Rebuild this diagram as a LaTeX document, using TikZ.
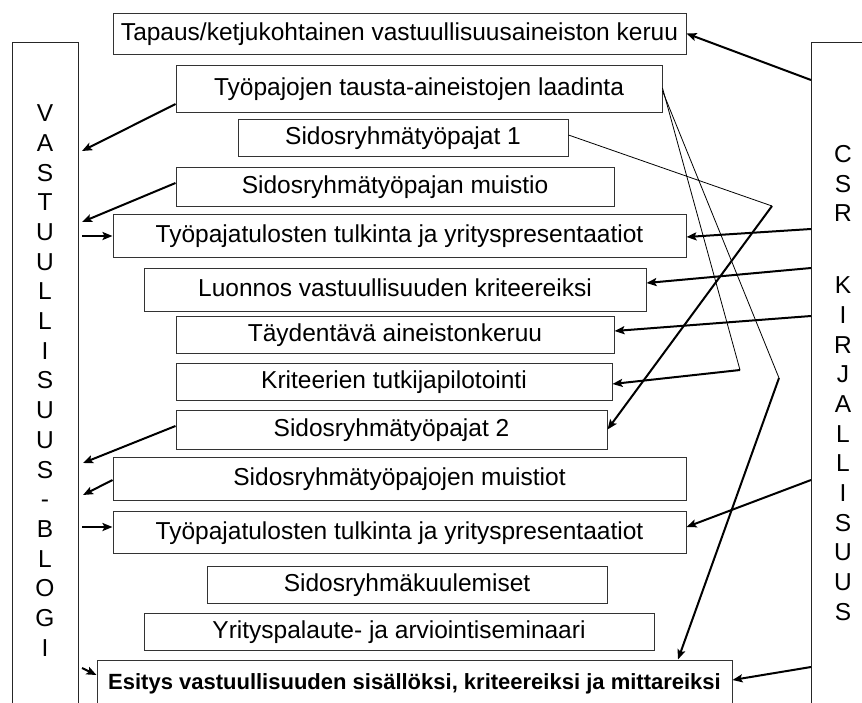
\documentclass[tikz,border=0pt]{standalone}
\usepackage{fontspec}
\setmainfont{Liberation Sans}
\usetikzlibrary{arrows.meta}

\begin{document}
\begin{tikzpicture}[x=1pt,y=-1pt,
  box/.style={draw=black!80, line width=1pt, inner sep=0pt, text height=18pt, text depth=5pt,
    font=\fontsize{24.5}{29.7}\selectfont},
  col/.style={draw=black!85, line width=1pt, inner sep=0pt},
  pino/.style={align=center, inner sep=0pt, font=\fontsize{24.5}{29.7}\selectfont},
  nuoli/.style={-{Stealth[length=10pt,width=8pt,inset=2pt]}, line width=2pt},
  ohut/.style={line width=0.8pt}]
\useasboundingbox (0,0) rectangle (862,702);
% Sivupalkit
\node[col, minimum width=66pt, minimum height=700pt] (blogi) at (45,392) {};
\node[col, minimum width=90pt, minimum height=700pt] (csr) at (856,392) {};
\node[pino] (blogiteksti) at (45,380.5) {V\\A\\S\\T\\U\\U\\L\\L\\I\\S\\U\\U\\S\\-\\B\\L\\O\\G\\I};
\node[pino] (csrteksti) at (843,383) {C\\S\\R\\[42pt]K\\I\\R\\J\\A\\L\\L\\I\\S\\U\\U\\S};
% Vaiheet
\node[box, minimum width=573pt, minimum height=41pt] (b1) at (399.5,33.5) {Tapaus/ketjukohtainen vastuullisuusaineiston keruu};
\node[box, minimum width=486pt, minimum height=47pt] (b2) at (419,88.5) {Työpajojen tausta-aineistojen laadinta};
\node[box, minimum width=330pt, minimum height=37pt] (b3) at (403,137.5) {Sidosryhmätyöpajat 1};
\node[box, minimum width=438pt, minimum height=39pt] (b4) at (395,186.5) {Sidosryhmätyöpajan muistio};
\node[box, minimum width=573pt, minimum height=43pt] (b5) at (399.5,235.5) {Työpajatulosten tulkinta ja yrityspresentaatiot};
\node[box, minimum width=502pt, minimum height=43pt] (b6) at (395,289.5) {Luonnos vastuullisuuden kriteereiksi};
\node[box, minimum width=438pt, minimum height=37pt] (b7) at (395,334.5) {Täydentävä aineistonkeruu};
\node[box, minimum width=436pt, minimum height=37pt] (b8) at (394,381.5) {Kriteerien tutkijapilotointi};
\node[box, minimum width=431pt, minimum height=39pt] (b9) at (391.5,429.5) {Sidosryhmätyöpajat 2};
\node[box, minimum width=573pt, minimum height=43pt] (b10) at (399.5,478.5) {Sidosryhmätyöpajojen muistiot};
\node[box, minimum width=573pt, minimum height=42pt] (b11) at (399.5,532.5) {Työpajatulosten tulkinta ja yrityspresentaatiot};
\node[box, minimum width=400pt, minimum height=37pt] (b12) at (407,585) {Sidosryhmäkuulemiset};
\node[box, minimum width=510pt, minimum height=37pt] (b13) at (399,631.5) {Yrityspalaute- ja arviointiseminaari};
\node[box, minimum width=635pt, minimum height=45pt, font=\fontsize{22}{26}\selectfont\bfseries] (b14) at (414.5,682.5) {Esitys vastuullisuuden sisällöksi, kriteereiksi ja mittareiksi};
% Nuolten päät sivupalkeissa
\coordinate (l1) at (82,151);
\coordinate (l2) at (82,222);
\coordinate (l3) at (82,236);
\coordinate (l4) at (83,463);
\coordinate (l5) at (83,495);
\coordinate (l6) at (82,527);
\coordinate (l7) at (82,668);
\coordinate (r1) at (811,80);
\coordinate (r2) at (811,229);
\coordinate (r3) at (811,268);
\coordinate (r4) at (811,316);
\coordinate (r5) at (811,480);
\coordinate (r6) at (811,667);
\coordinate (k1) at (740,370);
\coordinate (k2) at (779,378);
\coordinate (k3) at (772,206);
% Blogi
\draw[nuoli] ([yshift=-15.5pt]b2.west) -- (l1);
\draw[nuoli] ([yshift=3.5pt]b4.west) -- (l2);
\draw[nuoli] (l3) -- (l3 -| b5.west);
\draw[nuoli] ([yshift=3.5pt]b9.west) -- (l4);
\draw[nuoli] ([yshift=-1.5pt]b10.west) -- (l5);
\draw[nuoli] (l6) -- (l6 -| b11.west);
\draw[nuoli] (l7) -- ([yshift=7.5pt]b14.west);
% CSR-kirjallisuus
\draw[nuoli] (r1) -- (b1.east);
\draw[nuoli] (r2) -- ([yshift=-1.5pt]b5.east);
\draw[nuoli] (r3) -- ([yshift=6.5pt]b6.east);
\draw[nuoli] (r4) -- ([yshift=3.5pt]b7.east);
\draw[nuoli] (r5) -- ([yshift=5.5pt]b11.east);
\draw[nuoli] (r6) -- ([yshift=2.5pt]b14.east);
% Taitetut yhteydet
\draw[ohut] ([yshift=0.5pt]b2.east) -- (k1);
\draw[ohut] ([yshift=-2.5pt]b2.east) -- (k2);
\draw[ohut] ([yshift=2.5pt]b3.east) -- (k3);
\draw[nuoli] (k1) -- ([yshift=-2.5pt]b8.east);
\draw[nuoli] (k2) -- ([xshift=263.5pt]b14.north);
\draw[nuoli] (k3) -- (b9.east);
\end{tikzpicture}
\end{document}
